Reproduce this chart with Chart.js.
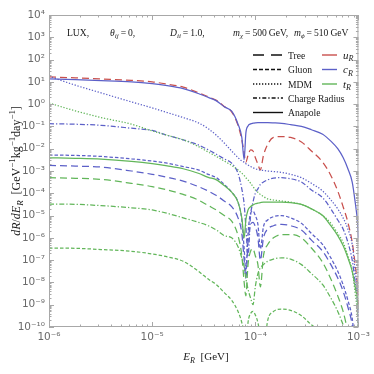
<!DOCTYPE html>
<html>
<head>
<meta charset="utf-8">
<script src="https://cdn.jsdelivr.net/npm/chart.js@4.4.1/dist/chart.umd.min.js"></script>
<style>
  html, body { margin: 0; padding: 0; background: #fff; }
  #wrap { width: 374px; height: 374px; }
</style>
</head>
<body>
<div id="wrap"><canvas id="rateChart" width="374" height="374"></canvas></div>
<script>
// ========== DATA ==========
// recoil energy E_R [GeV]
const energy = [
  1e-6, 1.8e-6, 3.2e-6, 6.3e-6, 1e-5, 1.4e-5, 2e-5, 2.8e-5, 3.5e-5, 4.2e-5,
  5e-5, 5.9e-5, 6.8e-5, 7.4e-5, 7.8e-5, 8.1e-5, 8.5e-5, 9e-5, 9.5e-5, 1e-4,
  1.06e-4, 1.12e-4, 1.2e-4, 1.32e-4, 1.5e-4, 1.8e-4, 2.2e-4, 2.8e-4, 3.5e-4, 4.5e-4,
  5.4e-4, 6.3e-4, 7.1e-4, 7.9e-4, 8.7e-4, 9.3e-4, 9.8e-4, 1e-3
];

// dR/dE_R [GeV^-1 kg^-1 day^-1]
const uTree = [
  16.6, 15.1, 13.5, 11.7, 10, 7.9, 5.8, 3.3, 2.14, 1.48,
  0.79, 0.45, 0.112, 0.025, 6.3e-3, 2.5e-3, 5.0e-3, 8.9e-3, 7.9e-3, 4.0e-3,
  2.0e-3, 1.12e-3, 5.0e-3, 0.016, 0.032, 0.035, 0.032, 0.02, 7.9e-3, 2.5e-3,
  6.3e-4, 1.26e-4, 2.5e-5, 5.0e-6, 6.3e-7, 6.3e-8, 6.3e-9, 1e-9
];
const cAnapole = [
  13.5, 12.6, 11.5, 10, 8.3, 6.8, 5.0, 3.0, 2.0, 1.4,
  0.76, 0.48, 0.126, 0.032, 3.2e-3, 0.05, 0.105, 0.13, 0.14, 0.145,
  0.148, 0.148, 0.148, 0.148, 0.145, 0.138, 0.12, 0.1, 0.071, 0.045,
  0.022, 0.01, 4.0e-3, 1.26e-3, 3.2e-4, 4.0e-5, 5.0e-6, 1e-6
];
const cMDM = [
  17.8, 7.1, 3.2, 1.26, 0.68, 0.42, 0.25, 0.145, 0.079, 0.04,
  0.018, 7.9e-3, 4.0e-3, 2.8e-3, 2.5e-3, 2.14e-3, 1.86e-3, 1.58e-3, 1.41e-3, 1.26e-3,
  1.17e-3, 1.1e-3, 1.05e-3, 1.0e-3, 9.5e-4, 8.7e-4, 7.1e-4, 5.0e-4, 2.8e-4, 1.26e-4,
  5.0e-5, 2.0e-5, 7.9e-6, 2.5e-6, 5.0e-7, 3.2e-8, 3.2e-9, 3.2e-10
];
const cChargeRadius = [
  0.132, 0.126, 0.112, 0.083, 0.066, 0.04, 0.025, 0.0148, 8.9e-3, 5.6e-3,
  3.5e-3, 2.24e-3, 7.9e-4, 1.58e-4, 3.2e-5, 3.2e-6, 1.58e-7, 1.0e-5, 4.0e-5, 1.0e-4,
  1.58e-4, 2.5e-4, 3.2e-4, 4.0e-4, 4.8e-4, 5.0e-4, 4.5e-4, 3.2e-4, 1.41e-4, 6.3e-5,
  2.0e-5, 6.3e-6, 2.5e-6, 6.3e-7, 1.0e-7, 1.0e-8, 1.0e-9, 1.0e-10
];
const cGluon = [
  5.2e-3, 5.0e-3, 4.5e-3, 3.5e-3, 2.8e-3, 2.24e-3, 1.58e-3, 1.12e-3, 7.1e-4, 5.0e-4,
  2.5e-4, 1.12e-4, 4.0e-5, 6.3e-6, 3.2e-7, 3.2e-8, 1.58e-6, 1.26e-5, 1.58e-5, 1.0e-5,
  4.0e-6, 3.2e-7, 3.2e-6, 6.3e-6, 8.9e-6, 1.0e-5, 7.9e-6, 4.5e-6, 1.58e-6, 5.0e-7,
  1.26e-7, 3.2e-8, 7.9e-9, 1.58e-9, 2.5e-10, 1.58e-11, 1e-11, 1e-11
];
const cTree = [
  1.78e-3, 1.66e-3, 1.5e-3, 1.0e-3, 7.1e-4, 5.2e-4, 3.5e-4, 2.0e-4, 1.26e-4, 7.9e-5,
  4.5e-5, 2.5e-5, 7.9e-6, 1.58e-6, 1.0e-7, 1.58e-8, 6.3e-7, 4.0e-6, 5.0e-6, 3.2e-6,
  1.0e-6, 1.0e-7, 1.0e-6, 2.5e-6, 3.5e-6, 4.0e-6, 3.5e-6, 2.24e-6, 7.9e-7, 2.5e-7,
  6.3e-8, 1.58e-8, 4.0e-9, 7.9e-10, 1.26e-10, 1e-11, 1e-11, 1e-11
];
const tMDM = [
  1.12, 0.5, 0.25, 0.126, 0.063, 0.04, 0.025, 0.0126, 7.1e-3, 4.5e-3,
  2.8e-3, 1.78e-3, 1.12e-3, 7.9e-4, 6.3e-4, 5.0e-4, 4.0e-4, 2.8e-4, 2.0e-4, 1.41e-4,
  1.12e-4, 8.9e-5, 7.1e-5, 5.6e-5, 5.0e-5, 4.5e-5, 4.0e-5, 3.2e-5, 2.0e-5, 1.0e-5,
  4.5e-6, 1.58e-6, 6.3e-7, 1.58e-7, 3.2e-8, 3.2e-9, 3.2e-10, 3.2e-11
];
const tAnapole = [
  3.9e-3, 3.7e-3, 3.4e-3, 2.7e-3, 2.14e-3, 1.7e-3, 1.26e-3, 7.9e-4, 5.2e-4, 4.0e-4,
  2.24e-4, 1.12e-4, 4.0e-5, 7.9e-6, 1.0e-6, 6.3e-6, 1.78e-5, 2.5e-5, 3.0e-5, 3.4e-5,
  3.6e-5, 3.8e-5, 4.0e-5, 4.0e-5, 4.0e-5, 4.0e-5, 3.8e-5, 3.2e-5, 2.0e-5, 1.0e-5,
  3.5e-6, 1.26e-6, 4.5e-7, 1.26e-7, 3.2e-8, 6.3e-9, 1.58e-9, 6.3e-10
];
const tTree = [
  5.0e-4, 4.7e-4, 4.2e-4, 2.8e-4, 2.0e-4, 1.41e-4, 8.9e-5, 5.0e-5, 2.8e-5, 1.78e-5,
  1.0e-5, 5.6e-6, 1.26e-6, 1.58e-7, 1.0e-8, 2.5e-9, 6.3e-8, 2.5e-7, 3.2e-7, 1.58e-7,
  6.3e-8, 6.3e-9, 1.58e-7, 5.0e-7, 1.0e-6, 1.41e-6, 1.41e-6, 1.0e-6, 3.5e-7, 7.9e-8,
  1.41e-8, 2.5e-9, 5.0e-10, 6.3e-11, 1e-11, 1e-11, 1e-11, 1e-11
];
const tChargeRadius = [
  3.3e-5, 3.2e-5, 2.8e-5, 2.24e-5, 1.78e-5, 1.26e-5, 7.9e-6, 5.0e-6, 3.5e-6, 2.24e-6,
  1.26e-6, 1.0e-6, 4.0e-7, 1.26e-7, 5.0e-8, 1.58e-8, 5.0e-9, 2.0e-9, 1.0e-9, 6.3e-9,
  2.5e-8, 4.5e-8, 6.3e-8, 8.9e-8, 1.12e-7, 1.26e-7, 1.12e-7, 6.3e-8, 2.5e-8, 7.9e-9,
  2.0e-9, 5.0e-10, 1.26e-10, 3.2e-11, 1e-11, 1e-11, 1e-11, 1e-11
];
const tGluon = [
  3.5e-7, 3.4e-7, 3.0e-7, 2.5e-7, 1.9e-7, 1.41e-7, 8.9e-8, 3.2e-8, 1.41e-8, 7.9e-9,
  3.5e-9, 1.58e-9, 5.0e-10, 1.58e-10, 5.0e-11, 1e-11, 1.58e-10, 4.0e-10, 5.0e-10, 3.5e-10,
  1.58e-10, 4.0e-11, 1e-11, 2.0e-10, 5.0e-10, 6.3e-10, 5.6e-10, 3.2e-10, 1.26e-10, 5.0e-11,
  1e-11, 1e-11, 1e-11, 1e-11, 1e-11, 1e-11, 1e-11, 1e-11
];

const xTicks = [1e-6, 1e-5, 1e-4, 1e-3];
const yTicks = [1e4, 1e3, 1e2, 1e1, 1e0, 1e-1, 1e-2, 1e-3, 1e-4, 1e-5, 1e-6, 1e-7, 1e-8, 1e-9, 1e-10];
const processLabels = ["Tree", "Gluon", "MDM", "Charge Radius", "Anapole"];
const quarkLabels = ["u", "c", "t"];

// ========== STYLES ==========
const colors = { u: "#c9504d", c: "#5c60c8", t: "#62b65a" };
const dashes = {
  Tree: [7, 4],
  Gluon: [3.5, 2],
  MDM: [1.3, 1.7],
  "Charge Radius": [5, 2, 1.3, 2],
  Anapole: []
};
const legendDashes = {
  Tree: [11, 7],
  Gluon: [4, 2],
  MDM: [1.3, 1.7],
  "Charge Radius": [4, 2, 1.3, 2],
  Anapole: []
};

const series = [
  ["t", "Gluon", tGluon],
  ["t", "Charge Radius", tChargeRadius],
  ["t", "Tree", tTree],
  ["t", "Anapole", tAnapole],
  ["t", "MDM", tMDM],
  ["c", "Tree", cTree],
  ["c", "Gluon", cGluon],
  ["c", "Charge Radius", cChargeRadius],
  ["c", "MDM", cMDM],
  ["c", "Anapole", cAnapole],
  ["u", "Tree", uTree]
];

const serif = '"Liberation Serif", "DejaVu Serif", serif';
const sans = '"DejaVu Sans", sans-serif';

const supMap = { "-": "\u207B", "0": "\u2070", "1": "\u00B9", "2": "\u00B2", "3": "\u00B3",
  "4": "\u2074", "5": "\u2075", "6": "\u2076", "7": "\u2077", "8": "\u2078", "9": "\u2079" };
function powLabel(v) {
  const e = String(Math.round(Math.log10(v)));
  return "10" + e.split("").map(ch => supMap[ch]).join("");
}

// text made of parts: {t, i: italic, s: 'sub' | 'sup'} or {g: gap in px}
function drawRich(ctx, x, y, parts, size) {
  for (const p of parts) {
    if (p.g) { x += p.g; continue; }
    const fs = p.s ? size * 0.74 : size;
    ctx.font = (p.i ? "italic " : "") + fs + "px " + serif;
    const dy = p.s === "sub" ? size * 0.26 : p.s === "sup" ? -size * 0.38 : 0;
    ctx.fillText(p.t, x, y + dy);
    x += ctx.measureText(p.t).width;
  }
  return x;
}
function richWidth(ctx, parts, size) {
  let w = 0;
  for (const p of parts) {
    if (p.g) { w += p.g; continue; }
    ctx.font = (p.i ? "italic " : "") + (p.s ? size * 0.74 : size) + "px " + serif;
    w += ctx.measureText(p.t).width;
  }
  return w;
}

// ========== FRAME, TICKS, TEXTS ==========
const decorPlugin = {
  id: "decor",
  afterDatasetsDraw(chart) {
    const { ctx, chartArea: a, scales } = chart;
    const xs = scales.x, ys = scales.y;
    ctx.save();

    // frame
    ctx.strokeStyle = "#a8a8a8";
    ctx.lineWidth = 1;
    ctx.setLineDash([]);
    ctx.strokeRect(a.left + 0.5, a.top + 0.5, a.right - a.left - 1, a.bottom - a.top - 1);

    // inward ticks on all four sides
    ctx.beginPath();
    for (let d = -6; d <= -3; d++) {
      for (let k = 1; k <= 9; k++) {
        if (d === -3 && k > 1) break;
        const px = Math.round(xs.getPixelForValue(k * Math.pow(10, d))) + 0.5;
        const len = k === 1 ? 5 : 2.5;
        ctx.moveTo(px, a.bottom); ctx.lineTo(px, a.bottom - len);
        ctx.moveTo(px, a.top); ctx.lineTo(px, a.top + len);
      }
    }
    for (let d = -10; d <= 4; d++) {
      for (let k = 1; k <= 9; k++) {
        if (d === 4 && k > 1) break;
        const py = Math.round(ys.getPixelForValue(k * Math.pow(10, d))) + 0.5;
        const len = k === 1 ? 5 : 2.5;
        ctx.moveTo(a.left, py); ctx.lineTo(a.left + len, py);
        ctx.moveTo(a.right, py); ctx.lineTo(a.right - len, py);
      }
    }
    ctx.stroke();

    ctx.fillStyle = "#1a1a1a";
    ctx.textBaseline = "alphabetic";
    ctx.textAlign = "left";

    // top annotation
    const fs = 9.6;
    drawRich(ctx, 67, 36, [{ t: "LUX," }], fs);
    drawRich(ctx, 110, 36, [{ t: "\u03B8", i: 1 }, { t: "ij", i: 1, s: "sub" }, { g: 2 }, { t: "=" }, { g: 2 }, { t: "0," }], fs);
    drawRich(ctx, 170, 36, [{ t: "D", i: 1 }, { t: "ii", i: 1, s: "sub" }, { g: 2 }, { t: "=" }, { g: 2 }, { t: "1.0," }], fs);
    drawRich(ctx, 233, 36, [{ t: "m", i: 1 }, { t: "\u03C7", i: 1, s: "sub" }, { g: 2 }, { t: "=" }, { g: 2 },
      { t: "500" }, { g: 2 }, { t: "GeV," }], fs);
    drawRich(ctx, 294, 36, [{ t: "m", i: 1 }, { t: "\u03D5", i: 1, s: "sub" }, { g: 2 }, { t: "=" }, { g: 2 },
      { t: "510" }, { g: 2 }, { t: "GeV" }], fs);

    // legend: line styles
    const rows = [55, 69.5, 84, 98, 112.5];
    ctx.lineWidth = 1.4;
    processLabels.forEach((lab, i) => {
      ctx.strokeStyle = "#111";
      ctx.setLineDash(legendDashes[lab]);
      ctx.beginPath();
      ctx.moveTo(253, rows[i]); ctx.lineTo(283, rows[i]);
      ctx.stroke();
      ctx.setLineDash([]);
      drawRich(ctx, 288, rows[i] + 3.5, [{ t: lab }], 9.6);
    });
    // legend: quark colours
    quarkLabels.forEach((q, i) => {
      ctx.strokeStyle = colors[q];
      ctx.setLineDash([]);
      ctx.beginPath();
      ctx.moveTo(322, rows[i]); ctx.lineTo(337, rows[i]);
      ctx.stroke();
      drawRich(ctx, 343, rows[i] + 3.5, [{ t: q, i: 1 }, { t: "R", i: 1, s: "sub" }], 11);
    });

    // axis titles
    const xt = [{ t: "E", i: 1 }, { t: "R", i: 1, s: "sub" }, { t: "  [GeV]" }];
    drawRich(ctx, 206 - richWidth(ctx, xt, 11) / 2, 360, xt, 11);

    const yt = [
      { t: "dR", i: 1 }, { t: "/" }, { t: "dE", i: 1 }, { t: "R", i: 1, s: "sub" },
      { t: "  [GeV" }, { t: "\u22121", s: "sup" }, { t: "kg" }, { t: "\u22121", s: "sup" },
      { t: "day" }, { t: "\u22121", s: "sup" }, { t: "]" }
    ];
    ctx.translate(20, 171);
    ctx.rotate(-Math.PI / 2);
    drawRich(ctx, -richWidth(ctx, yt, 12) / 2, 0, yt, 12);

    ctx.restore();
  }
};

// ========== CHART ==========
document.addEventListener("DOMContentLoaded", () => {
  const ctx = document.getElementById("rateChart").getContext("2d");

  const datasets = series.map(([q, proc, values]) => ({
    label: q + "R " + proc,
    data: values.map((v, i) => ({ x: energy[i], y: v })),
    borderColor: colors[q],
    borderWidth: 1.25,
    borderDash: dashes[proc],
    pointRadius: 0,
    fill: false,
    cubicInterpolationMode: "monotone"
  }));

  new Chart(ctx, {
    type: "line",
    data: { datasets },
    options: {
      responsive: false,
      animation: false,
      layout: { padding: { left: 0, top: 15, right: 12, bottom: 0 } },
      plugins: { legend: { display: false }, tooltip: { enabled: false } },
      scales: {
        x: {
          type: "logarithmic",
          min: 1e-6,
          max: 1e-3,
          afterBuildTicks: s => { s.ticks = xTicks.map(v => ({ value: v })); },
          afterFit: s => { s.height = 47; },
          grid: { display: false, drawTicks: false },
          border: { display: false },
          ticks: {
            padding: 4,
            color: "#6a6a6a",
            font: { family: sans, size: 10.5 },
            maxRotation: 0,
            autoSkip: false,
            callback: v => powLabel(v)
          }
        },
        y: {
          type: "logarithmic",
          min: 1e-10,
          max: 1e4,
          afterBuildTicks: s => { s.ticks = yTicks.map(v => ({ value: v })); },
          afterFit: s => { s.width = 49; },
          grid: { display: false, drawTicks: false },
          border: { display: false },
          ticks: {
            padding: 4,
            color: "#6a6a6a",
            font: { family: sans, size: 10.5 },
            autoSkip: false,
            callback: v => powLabel(v)
          }
        }
      }
    },
    plugins: [decorPlugin]
  });
});
</script>
</body>
</html>
